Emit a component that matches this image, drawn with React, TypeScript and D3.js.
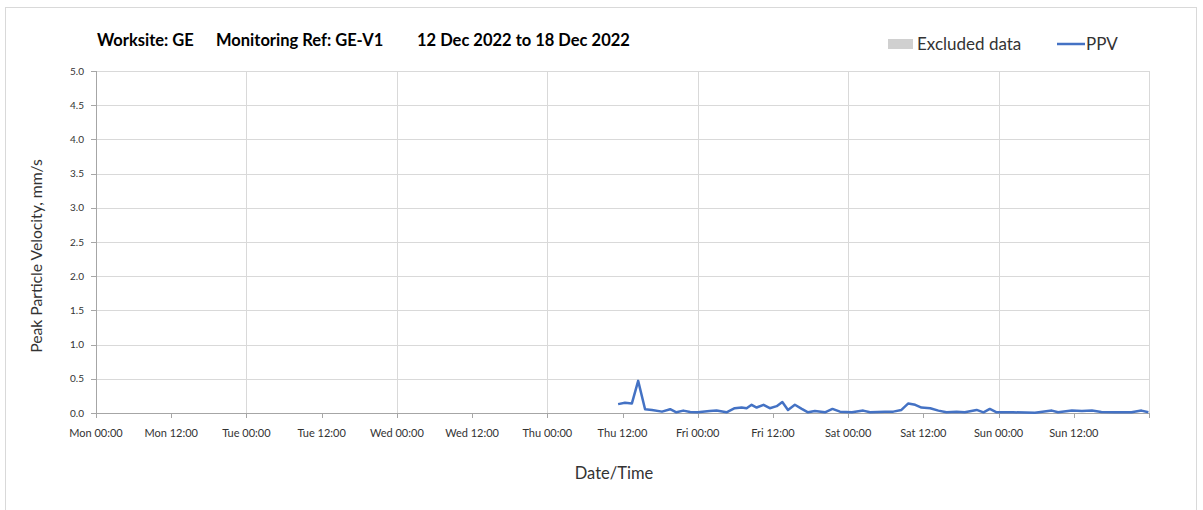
import React from "react";
import * as d3 from "d3";

const START = new Date(2022, 11, 12, 0, 0, 0);
const END = new Date(2022, 11, 19, 0, 0, 0);

// hours since Mon 12 Dec 2022 00:00
const hoursOffset = [
  83.3, 84.4, 85.5, 86.5, 87.6, 88.7, 90.3, 91.6, 92.6, 93.7, 94.8, 96.0, 97.9, 99.0,
  100.6, 101.9, 103.0, 103.8, 104.6, 105.4, 106.5, 107.5, 108.6, 109.5, 110.4, 111.5,
  112.6, 113.6, 114.7, 116.3, 117.5, 118.7, 120.6, 122.4, 123.5, 125.9, 127.2, 128.5,
  129.6, 130.7, 131.7, 133.1, 134.4, 135.7, 137.3, 138.6, 140.5, 141.6, 142.6, 143.7,
  146.3, 149.8, 152.5, 153.5, 155.7, 157.3, 158.9, 160.4, 162.6, 165.2, 166.8, 167.9,
];
const ppvValues = [
  0.13, 0.15, 0.14, 0.47, 0.055, 0.045, 0.02, 0.055, 0.01, 0.035, 0.015, 0.01, 0.03, 0.035,
  0.01, 0.07, 0.08, 0.07, 0.12, 0.08, 0.12, 0.07, 0.1, 0.16, 0.045, 0.12,
  0.06, 0.01, 0.03, 0.01, 0.06, 0.02, 0.01, 0.035, 0.01, 0.02, 0.02, 0.045,
  0.14, 0.12, 0.08, 0.07, 0.035, 0.01, 0.02, 0.01, 0.045, 0.01, 0.06, 0.01,
  0.01, 0.005, 0.035, 0.01, 0.035, 0.03, 0.035, 0.015, 0.01, 0.01, 0.035, 0.01,
];

const yTicks = [0, 0.5, 1, 1.5, 2, 2.5, 3, 3.5, 4, 4.5, 5];
const dayNames = ["Mon", "Tue", "Wed", "Thu", "Fri", "Sat", "Sun"];
const titleParts = ["Worksite: GE", "Monitoring Ref: GE-V1", "12 Dec 2022 to 18 Dec 2022"];
const legendLabels = ["Excluded data", "PPV"];
const xTitle = "Date/Time";
const yTitle = "Peak Particle Velocity, mm/s";

const W = 1203;
const H = 510;
const M = { left: 96, right: 1149, top: 71, bottom: 413 };
const FONT = "Lato, 'Noto Sans', sans-serif";
const LINE = "#4472C4";

export default function App() {
  const x = d3.scaleTime().domain([START, END]).range([M.left, M.right]);
  const y = d3.scaleLinear().domain([0, 5]).range([M.bottom, M.top]);

  const data = hoursOffset.map((h, i) => ({
    t: new Date(START.getTime() + h * 3600 * 1000),
    v: ppvValues[i],
  }));
  const line = d3
    .line<{ t: Date; v: number }>()
    .x((d) => x(d.t))
    .y((d) => y(d.v));

  const dayTicks = d3.timeDay.range(START, d3.timeDay.offset(END, 1));
  const halfTicks = d3.timeHour.every(12)!.range(START, d3.timeHour.offset(END, 1));
  const labelTicks = d3.timeHour.every(12)!.range(START, END);
  const fmt = (d: Date) =>
    `${dayNames[(d.getDay() + 6) % 7]} ${d.getHours() === 0 ? "00:00" : "12:00"}`;

  return (
    <svg
      width={W}
      height={H}
      style={{ position: "absolute", left: 0, top: 0, background: "#fff" }}
      fontFamily={FONT}
    >
      <rect x={5.5} y={7.5} width={1191} height={540} fill="#fff" stroke="#d9d9d9" />
      <text y={46} fontSize={16.5} fontWeight={700} fill="#000">
        <tspan x={97}>{titleParts[0]}</tspan>
        <tspan x={216}>{titleParts[1]}</tspan>
        <tspan x={417}>{titleParts[2]}</tspan>
      </text>

      {/* legend */}
      <rect x={888} y={39} width={25} height={10} fill="#d0d0d0" />
      <text x={917} y={50} fontSize={17} fill="#333">{legendLabels[0]}</text>
      <line x1={1057} x2={1085} y1={44} y2={44} stroke={LINE} strokeWidth={2.5} />
      <text x={1086} y={50} fontSize={17} fill="#333">{legendLabels[1]}</text>

      {/* horizontal gridlines */}
      {yTicks.map((t) => (
        <line key={"hg" + t} x1={M.left} x2={M.right} y1={Math.round(y(t)) + 0.5} y2={Math.round(y(t)) + 0.5} stroke="#d9d9d9" />
      ))}
      {/* vertical gridlines */}
      {dayTicks.map((d) => (
        <line key={"vg" + d.getTime()} x1={Math.round(x(d)) + 0.5} x2={Math.round(x(d)) + 0.5} y1={M.top} y2={M.bottom} stroke="#d9d9d9" />
      ))}

      {/* axes */}
      <line x1={M.left + 0.5} x2={M.left + 0.5} y1={M.top} y2={M.bottom} stroke="#a6a6a6" />
      <line x1={M.left} x2={M.right} y1={M.bottom + 0.5} y2={M.bottom + 0.5} stroke="#a6a6a6" />
      {yTicks.map((t) => (
        <g key={"yt" + t}>
          <line x1={M.left - 5} x2={M.left} y1={Math.round(y(t)) + 0.5} y2={Math.round(y(t)) + 0.5} stroke="#a6a6a6" />
          <text x={84} y={y(t) + 3.5} fontSize={10} textAnchor="end" fill="#333">
            {t.toFixed(1)}
          </text>
        </g>
      ))}
      {halfTicks.map((d) => (
        <line key={"xt" + d.getTime()} x1={Math.round(x(d)) + 0.5} x2={Math.round(x(d)) + 0.5} y1={M.bottom} y2={M.bottom + 5} stroke="#a6a6a6" />
      ))}
      {labelTicks.map((d) => (
        <text key={"xl" + d.getTime()} x={x(d)} y={437} fontSize={11} textAnchor="middle" fill="#333">
          {fmt(d)}
        </text>
      ))}

      <path d={line(data) || ""} fill="none" stroke={LINE} strokeWidth={2.5} strokeLinejoin="round" />

      <text x={614} y={479} fontSize={16.5} textAnchor="middle" fill="#333">{xTitle}</text>
      <text
        transform={`translate(42, 256) rotate(-90)`}
        fontSize={15.7}
        textAnchor="middle"
        fill="#333"
      >
        {yTitle}
      </text>
    </svg>
  );
}
